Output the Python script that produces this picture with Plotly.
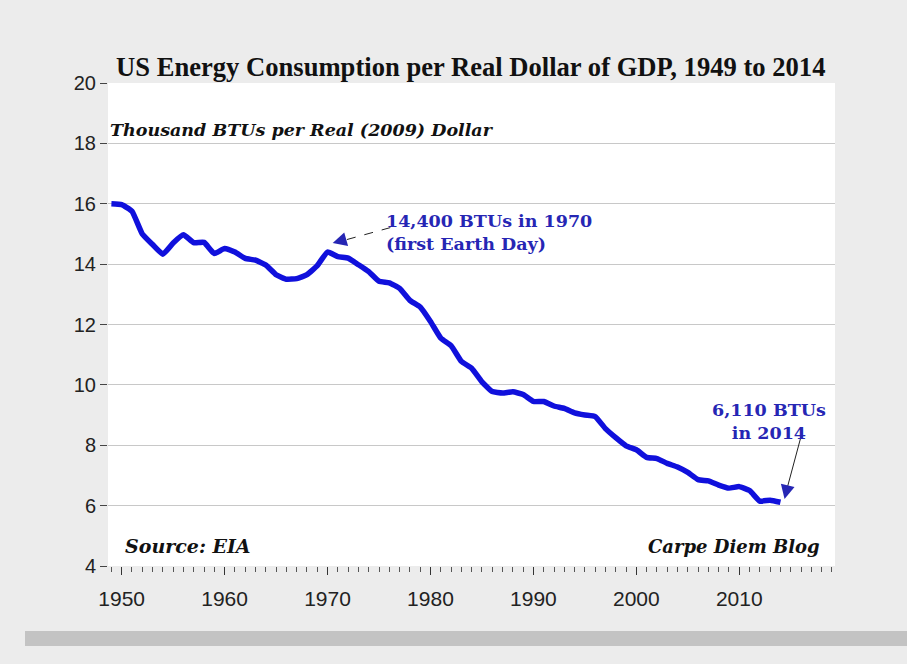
import plotly.graph_objects as go

years = list(range(1949, 2015))
btu_per_dollar = [
    16.00, 15.97, 15.75, 15.00, 14.65, 14.33, 14.70, 14.97, 14.71, 14.72,
    14.35, 14.52, 14.40, 14.19, 14.13, 13.97, 13.65, 13.50, 13.52, 13.65,
    13.95, 14.40, 14.25, 14.20, 13.98, 13.75, 13.43, 13.38, 13.20, 12.80,
    12.58, 12.10, 11.55, 11.30, 10.78, 10.55, 10.10, 9.78, 9.73, 9.77,
    9.68, 9.45, 9.45, 9.30, 9.22, 9.07, 9.00, 8.95, 8.55, 8.25,
    7.98, 7.85, 7.60, 7.56, 7.40, 7.28, 7.10, 6.86, 6.82, 6.68,
    6.58, 6.63, 6.50, 6.15, 6.18, 6.11,
]
y_ticks = [4, 6, 8, 10, 12, 14, 16, 18, 20]
x_ticks = [1950, 1960, 1970, 1980, 1990, 2000, 2010]

BLUE_LINE = "#1010dc"
BLUE_TEXT = "#2626b4"
SERIF = "DejaVu Serif"
AXIS_FONT = "Liberation Sans Narrow, Arial Narrow, Liberation Sans"

fig = go.Figure()
fig.add_trace(go.Scatter(
    x=years, y=btu_per_dollar, mode="lines",
    line=dict(color=BLUE_LINE, width=5.5, shape="spline", smoothing=0.4),
    hoverinfo="x+y", showlegend=False,
))

fig.update_layout(
    width=907, height=664,
    margin=dict(l=108, r=72, t=83, b=98),
    paper_bgcolor="#ececec",
    plot_bgcolor="#ffffff",
    title=dict(
        text="<b>US Energy Consumption per Real Dollar of GDP, 1949 to 2014</b>",
        font=dict(family="Liberation Serif", size=26.6, color="#111111"),
        x=116 / 907, xanchor="left", xref="container",
        y=1 - 67 / 664, yanchor="middle", yref="container",
    ),
    xaxis=dict(
        range=[1948.67, 2019.3],
        tickvals=x_ticks, ticktext=[str(v) for v in x_ticks],
        ticks="outside", ticklen=8, tickwidth=1, tickcolor="#333333",
        minor=dict(dtick=1, tick0=1949, ticks="outside", ticklen=5,
                   tickwidth=1, tickcolor="#555555", showgrid=False),
        showgrid=False, showline=False, zeroline=False,
        ticklabelstandoff=6,
        tickfont=dict(family=AXIS_FONT, size=21, color="#222222"),
    ),
    yaxis=dict(
        range=[4, 20],
        tickvals=y_ticks,
        ticks="outside", ticklen=7, tickwidth=1, tickcolor="#444444",
        showgrid=True, gridcolor="#c8c8c8", gridwidth=1,
        showline=False, zeroline=False,
        tickfont=dict(family=AXIS_FONT, size=20, color="#222222"),
    ),
)

# bottom shadow bar
fig.add_shape(type="rect", xref="paper", yref="paper",
              x0=(25 - 108) / 727, x1=(907 - 108) / 727,
              y0=(566 - 646) / 483, y1=(566 - 631) / 483,
              line=dict(width=0), fillcolor="#c3c3c3", layer="below")

fig.add_annotation(
    text="<b><i>Thousand BTUs per Real (2009) Dollar</i></b>",
    xref="paper", yref="paper", x=(108 - 108) / 727, y=(566 - 130) / 483,
    xanchor="left", yanchor="middle", showarrow=False,
    font=dict(family=SERIF, size=17.5, color="#111111"),
)
fig.add_annotation(
    text="<b><i>Source: EIA</i></b>",
    xref="paper", yref="paper", x=(123 - 108) / 727, y=(566 - 546) / 483,
    xanchor="left", yanchor="middle", showarrow=False,
    font=dict(family=SERIF, size=19, color="#111111"),
)
fig.add_annotation(
    text="<b><i>Carpe Diem Blog</i></b>",
    xref="paper", yref="paper", x=(822 - 108) / 727, y=(566 - 546) / 483,
    xanchor="right", yanchor="middle", showarrow=False,
    font=dict(family=SERIF, size=18, color="#111111"),
)

# 1970 annotation
fig.add_annotation(
    text="<b>14,400 BTUs in 1970<br>(first Earth Day)</b>",
    xref="x", yref="y", x=1975.5, y=15.04,
    xanchor="left", yanchor="middle", align="left", showarrow=False,
    font=dict(family=SERIF, size=17.5, color=BLUE_TEXT),
)
fig.add_shape(type="line", xref="x", yref="y",
              x0=1976.1, y0=15.21, x1=1971.2, y1=14.75,
              line=dict(color="#222222", width=1, dash="dash"))
fig.add_annotation(
    text="", xref="x", yref="y", x=1970.5, y=14.70,
    ax=14, ay=-4, showarrow=True,
    arrowhead=2, arrowsize=1.4, arrowwidth=2, arrowcolor=BLUE_TEXT,
)

# 2014 annotation
fig.add_annotation(
    text="<b>6,110 BTUs<br>in 2014</b>",
    xref="x", yref="y", x=2012.85, y=8.78,
    xanchor="center", yanchor="middle", align="center", showarrow=False,
    font=dict(family=SERIF, size=17.5, color=BLUE_TEXT),
)
fig.add_shape(type="line", xref="x", yref="y",
              x0=2016.0, y0=8.29, x1=2014.55, y1=6.45,
              line=dict(color="#222222", width=1))
fig.add_annotation(
    text="", xref="x", yref="y", x=2014.4, y=6.22,
    ax=3, ay=-13, showarrow=True,
    arrowhead=2, arrowsize=1.4, arrowwidth=2, arrowcolor=BLUE_TEXT,
)

fig.write_html("out.html", config={"displayModeBar": False},
               post_script="document.body.style.margin='0px';")
